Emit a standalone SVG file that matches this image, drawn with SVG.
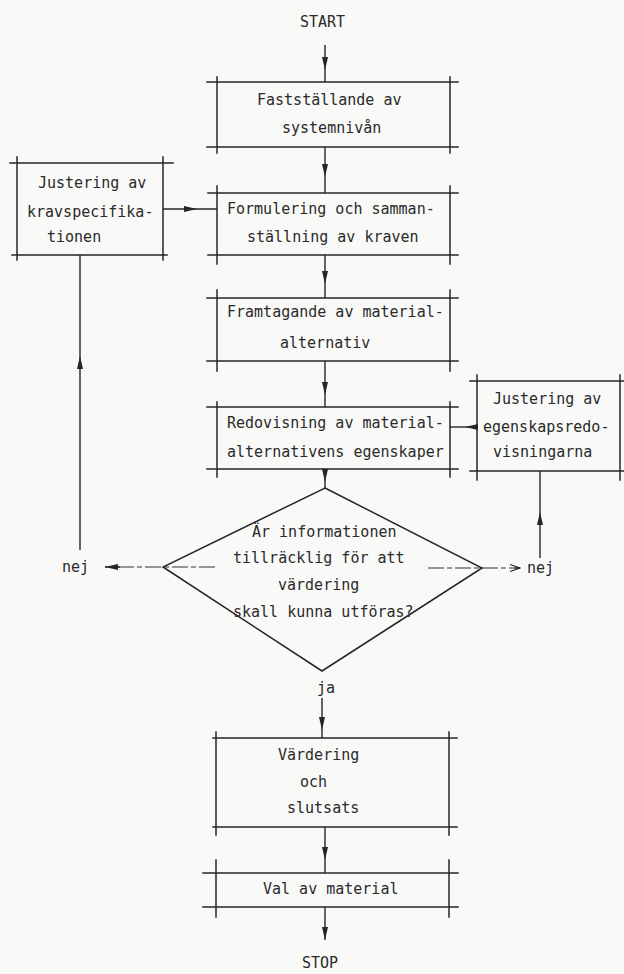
<svg xmlns="http://www.w3.org/2000/svg" width="624" height="974" viewBox="0 0 624 974">
  <style>
    .bg { fill: #f9f9f7; }
    .frame { stroke: #262626; stroke-width: 1.5; fill: none; stroke-linecap: square; }
    .conn { stroke: #262626; stroke-width: 1.4; fill: none; }
    .faint { stroke: #333333; stroke-width: 1.2; fill: none; stroke-dasharray: 16 3 5 3; }
    .txt { font-family: "DejaVu Sans Mono", "Liberation Mono", monospace; font-size: 15px; fill: #2a2a2a; }
  </style>
  <defs>
    <marker id="head" markerUnits="userSpaceOnUse" viewBox="-14 -4 15 8" markerWidth="15" markerHeight="8" refX="0" refY="0" orient="auto">
      <path d="M0,0 L-13,-3 L-13,3 Z" fill="#262626"/>
    </marker>
    <marker id="open" markerUnits="userSpaceOnUse" viewBox="-11 -5 12 10" markerWidth="12" markerHeight="10" refX="0" refY="0" orient="auto">
      <path d="M-10,-3.5 L0,0 L-10,3.5" fill="none" stroke="#262626" stroke-width="1.3"/>
    </marker>
  </defs>

  <rect class="bg" x="0" y="0" width="624" height="974"/>

  <!-- terminals -->
  <g id="start"><text class="txt" x="300" y="27">START</text></g>
  <g id="stop"><text class="txt" x="302" y="968">STOP</text></g>

  <!-- process boxes: typed frame lines run past the corners -->
  <g id="box-systemniva">
    <path class="frame" d="M207,82 H458 M207,147 H458 M217,77 V153 M450,77 V153"/>
    <text class="txt" x="257" y="105">Fastställande av</text>
    <text class="txt" x="282" y="133">systemnivån</text>
  </g>

  <g id="box-krav">
    <path class="frame" d="M208,193 H458 M208,255 H458 M217,186 V264 M450,186 V264"/>
    <text class="txt" x="227" y="214">Formulering och samman-</text>
    <text class="txt" x="247" y="242">ställning av kraven</text>
  </g>

  <g id="box-justering-krav">
    <path class="frame" d="M10,163 H173 M12,255 H167 M17,157 V260 M163,157 V260"/>
    <text class="txt" x="38" y="188">Justering av</text>
    <text class="txt" x="27" y="217">kravspecifika-</text>
    <text class="txt" x="47" y="242">tionen</text>
  </g>

  <g id="box-alternativ">
    <path class="frame" d="M207,298 H458 M207,361 H458 M217,290 V371 M450,290 V371"/>
    <text class="txt" x="227" y="317">Framtagande av material-</text>
    <text class="txt" x="280" y="348">alternativ</text>
  </g>

  <g id="box-egenskaper">
    <path class="frame" d="M207,407 H458 M207,469 H458 M217,402 V477 M450,402 V477"/>
    <text class="txt" x="227" y="428">Redovisning av material-</text>
    <text class="txt" x="227" y="457">alternativens egenskaper</text>
  </g>

  <g id="box-justering-egenskaper">
    <path class="frame" d="M470,381 H624 M470,471 H624 M477,375 V480 M620,375 V480"/>
    <text class="txt" x="493" y="404">Justering av</text>
    <text class="txt" x="483" y="432">egenskapsredo-</text>
    <text class="txt" x="493" y="457">visningarna</text>
  </g>

  <!-- decision -->
  <g id="decision">
    <path class="frame" d="M325,488 L482,568 L322,671 L163,567 Z" stroke-linejoin="miter"/>
    <text class="txt" x="252" y="537">Är informationen</text>
    <text class="txt" x="233" y="563">tillräcklig för att</text>
    <text class="txt" x="278" y="590">värdering</text>
    <text class="txt" x="233" y="617">skall kunna utföras?</text>
  </g>

  <g id="box-vardering">
    <path class="frame" d="M213,738 H457 M213,827 H457 M216,732 V835 M449,732 V835"/>
    <text class="txt" x="278" y="760">Värdering</text>
    <text class="txt" x="300" y="787">och</text>
    <text class="txt" x="287" y="813">slutsats</text>
  </g>

  <g id="box-val">
    <path class="frame" d="M203,873 H458 M203,907 H458 M216,860 V917 M449,860 V917"/>
    <text class="txt" x="263" y="894">Val av material</text>
  </g>

  <!-- branch labels -->
  <g id="label-nej-left"><text class="txt" x="62" y="572">nej</text></g>
  <g id="label-nej-right"><text class="txt" x="527" y="573">nej</text></g>
  <g id="label-ja"><text class="txt" x="317" y="693">ja</text></g>

  <!-- connectors: arrowheads sit part way along each line -->
  <g id="connectors">
    <path class="conn" d="M325,45 L325,70 L325,82" marker-mid="url(#head)"/>
    <path class="conn" d="M325,147 L325,177 L325,193" marker-mid="url(#head)"/>
    <path class="conn" d="M325,255 L325,284 L325,298" marker-mid="url(#head)"/>
    <path class="conn" d="M325,361 L325,395 L325,407" marker-mid="url(#head)"/>
    <path class="conn" d="M325,469 L325,482 L325,488" marker-mid="url(#head)"/>
    <path class="conn" d="M322,698 L322,730 L322,738" marker-mid="url(#head)"/>
    <path class="conn" d="M325,827 L325,860 L325,873" marker-mid="url(#head)"/>
    <path class="conn" d="M325,907 L325,940" marker-end="url(#head)"/>

    <!-- side loops -->
    <path class="conn" d="M163,209 L197,209 L217,209" marker-mid="url(#head)"/>
    <path class="conn" d="M477,427 L465,427 L450,427" marker-mid="url(#head)"/>
    <path class="conn" d="M80,550 L80,356 L80,255" marker-mid="url(#head)"/>
    <path class="conn" d="M540,558 L540,512 L540,471" marker-mid="url(#head)"/>

    <!-- "nej" exits from the decision -->
    <path class="faint" d="M215,567 L105,567"/>
    <path class="conn" d="M120,567 L105,567" marker-end="url(#head)"/>
    <path class="faint" d="M428,568 L519,568"/>
    <path class="conn" d="M515,568 L520,568" marker-end="url(#open)"/>
  </g>
</svg>
